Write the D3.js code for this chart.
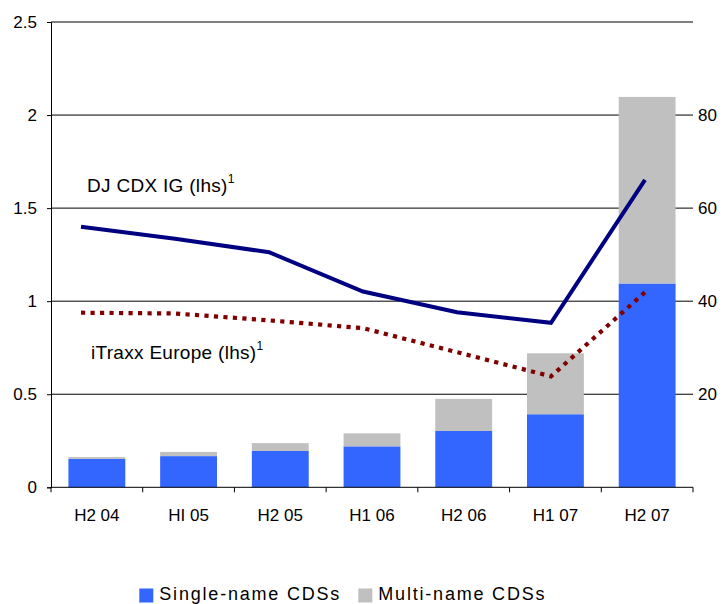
<!DOCTYPE html>
<html>
<head>
<meta charset="utf-8">
<script src="https://cdn.jsdelivr.net/npm/d3@7"></script>
<style>
  html, body { margin: 0; padding: 0; background: #fff; }
  svg { display: block; }
  text { font-family: "Liberation Sans", Arial, sans-serif; fill: #000; }
</style>
</head>
<body>
<div id="chart"></div>
<script>
// ---- data ----
const categories = ["H2 04", "HI 05", "H2 05", "H1 06", "H2 06", "H1 07", "H2 07"];
// bars, right-hand scale
const singleName = [6.1, 6.7, 7.8, 8.8, 12.1, 15.7, 43.8];
const multiName  = [0.4, 0.9, 1.7, 2.8, 6.9, 13.1, 40.1];
// lines, left-hand scale
const djCdxIg      = [1.40, 1.335, 1.263, 1.052, 0.941, 0.884, 1.652];
const itraxxEurope = [0.938, 0.934, 0.897, 0.855, 0.726, 0.596, 1.048];
const leftTicks  = [0, 0.5, 1, 1.5, 2, 2.5];
const rightTicks = [20, 40, 60, 80];
const legendItems = ["Single-name CDSs", "Multi-name CDSs"];

// ---- layout ----
const W = 723, H = 604;
const plot = { left: 51, right: 693, top: 22, bottom: 487.3 };
const colors = { single: "#3366FF", multi: "#C0C0C0", dj: "#000080", itraxx: "#800000" };

const svg = d3.select("#chart").append("svg").attr("width", W).attr("height", H);
svg.append("rect").attr("width", W).attr("height", H).attr("fill", "#fff");

const x = d3.scaleBand().domain(categories).range([plot.left, plot.right])
  .paddingInner(0.38).paddingOuter(0.19);
const xLine = d3.scalePoint().domain(categories).range([plot.left + 30, plot.right - 48]);
const yL = d3.scaleLinear().domain([0, 2.5]).range([plot.bottom, plot.top]);
const yR = d3.scaleLinear().domain([0, 100]).range([plot.bottom, plot.top]);

// gridlines
svg.append("g").selectAll("line").data(leftTicks.filter(d => d > 0)).join("line")
  .attr("x1", plot.left).attr("x2", plot.right)
  .attr("y1", d => yL(d)).attr("y2", d => yL(d))
  .attr("stroke", "#000").attr("stroke-width", 1);

// stacked bars
const stackData = categories.map((c, i) => ({ cat: c, single: singleName[i], multi: multiName[i] }));
const series = d3.stack().keys(["single", "multi"])(stackData);
svg.append("g").selectAll("g").data(series).join("g")
  .attr("fill", d => colors[d.key])
  .selectAll("rect").data(d => d).join("rect")
  .attr("x", d => x(d.data.cat))
  .attr("width", x.bandwidth())
  .attr("y", d => yR(d[1]))
  .attr("height", d => yR(d[0]) - yR(d[1]));

// lines
const lineGen = vals => d3.line().x((d, i) => xLine(categories[i])).y(d => yL(d))(vals);
svg.append("path").attr("d", lineGen(itraxxEurope))
  .attr("fill", "none").attr("stroke", colors.itraxx).attr("stroke-width", 4.2)
  .attr("stroke-dasharray", "4.2,5.3");
svg.append("path").attr("d", lineGen(djCdxIg))
  .attr("fill", "none").attr("stroke", colors.dj).attr("stroke-width", 4)
  .attr("stroke-linejoin", "miter");

// left axis
const gL = svg.append("g").attr("transform", `translate(${plot.left},0)`)
  .call(d3.axisLeft(yL).tickValues(leftTicks).tickFormat(d => String(d)).tickSize(4).tickPadding(10));
gL.select(".domain").attr("stroke", "#000");
gL.selectAll("text").attr("font-size", 17).attr("font-family", "Liberation Sans, Arial, sans-serif");

// right axis labels (no domain, no ticks)
svg.append("g").selectAll("text").data(rightTicks).join("text")
  .attr("x", plot.right + 5).attr("y", d => yR(d)).attr("dy", "0.35em")
  .attr("font-size", 17).text(d => d);

// x axis
svg.append("line").attr("x1", plot.left).attr("x2", plot.right)
  .attr("y1", plot.bottom).attr("y2", plot.bottom).attr("stroke", "#000");
const bounds = categories.map(c => x(c) - x.step() * x.paddingInner() / 2)
  .concat([x(categories[categories.length - 1]) + x.bandwidth() + x.step() * x.paddingInner() / 2]);
svg.append("g").selectAll("line").data(bounds).join("line")
  .attr("x1", d => d).attr("x2", d => d)
  .attr("y1", plot.bottom).attr("y2", plot.bottom + 5).attr("stroke", "#000");
svg.append("g").selectAll("text").data(categories).join("text")
  .attr("x", d => x(d) + x.bandwidth() / 2).attr("y", plot.bottom + 34)
  .attr("text-anchor", "middle").attr("font-size", 17).text(d => d);

// series labels
function seriesLabel(xPos, yVal, txt) {
  const t = svg.append("text").attr("x", xPos).attr("y", yL(yVal))
    .attr("font-size", 19).attr("letter-spacing", "0.3px");
  t.append("tspan").text(txt);
  t.append("tspan").attr("dy", -9).attr("font-size", 12).text("1");
}
seriesLabel(xLine(categories[0]) + 6, 1.588, "DJ CDX IG (lhs)");
seriesLabel(xLine(categories[0]) + 10, 0.691, "iTraxx Europe (lhs)");

// legend
const legend = svg.append("g");
const legendX = [139.3, 358.3];
const legendColors = [colors.single, colors.multi];
legendItems.forEach((label, i) => {
  legend.append("rect").attr("x", legendX[i]).attr("y", 588.5).attr("width", 14).attr("height", 14)
    .attr("fill", legendColors[i]);
  legend.append("text").attr("x", legendX[i] + 20).attr("y", 599.6)
    .attr("font-size", 18).attr("letter-spacing", "1.8px").text(label);
});
</script>
</body>
</html>
